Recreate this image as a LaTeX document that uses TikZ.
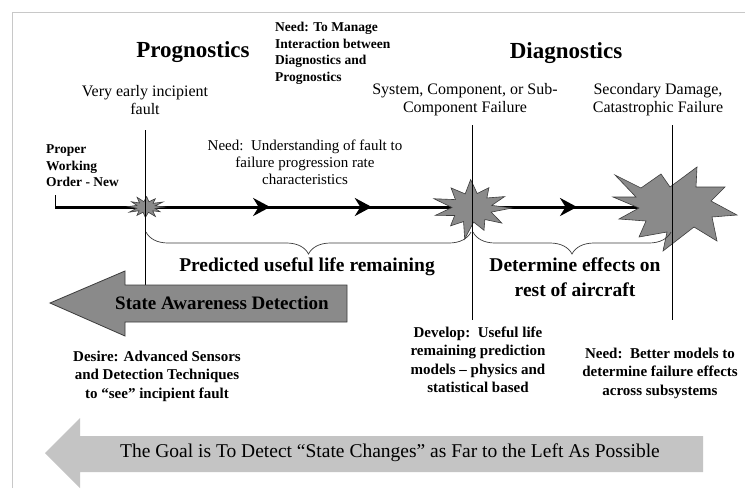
\documentclass[tikz,border=0pt]{standalone}
\usepackage{fontspec}
\setmainfont{Liberation Serif}
\usetikzlibrary{arrows.meta,decorations.pathreplacing,decorations.markings,calc}
\definecolor{framegray}{HTML}{C8C8C8}
\definecolor{stargray}{HTML}{8A8A8A}
\definecolor{edgegray}{HTML}{3C3C3C}
\definecolor{goalgray}{HTML}{C4C4C4}
\begin{document}
\begin{tikzpicture}[x=1pt,y=-1pt,
  txt/.style={inner sep=0pt, align=center},
  title/.style={inner sep=0pt, font=\bfseries\fontsize{23}{26}\selectfont},
  lbl/.style={txt, font=\fontsize{16}{18}\selectfont},
  blbl/.style={txt, font=\bfseries\fontsize{15}{18.5}\selectfont},
  big/.style={txt, font=\bfseries\fontsize{19.5}{25}\selectfont},
  mainline/.style={line width=3pt, black, postaction={decorate},
    decoration={markings,
      mark=at position 0.347 with {\arrow{Stealth[length=17pt,width=18pt]}},
      mark=at position 0.511 with {\arrow{Stealth[length=17pt,width=18pt]}},
      mark=at position 0.842 with {\arrow{Stealth[length=17pt,width=18pt]}}}},
  vline/.style={line width=0.7pt, black},
  burst/.style={fill=stargray, draw=edgegray, line width=0.6pt, line join=miter},
  bracestyle/.style={draw=edgegray, line width=0.7pt, decorate,
    decoration={brace, mirror, amplitude=22pt}},
  stateArrow/.style={fill=stargray, draw=edgegray, line width=0.8pt},
  goalArrow/.style={fill=goalgray}
]
\useasboundingbox (0,0) rectangle (745,488);
\fill[white] (0,0) rectangle (745,488);
% frame
\draw[framegray, line width=1pt] (12,488) -- (12,12) -- (745,12);

% coordinates
\coordinate (pwo) at (55,207);
\coordinate (pwotop) at (55,195);
\coordinate (s1) at (146,207);
\coordinate (s2) at (472,208);
\coordinate (s3) at (675,207);
\coordinate (v1t) at (145,130); \coordinate (v1b) at (145,285);
\coordinate (v2t) at (472,125); \coordinate (v2b) at (472,320);
\coordinate (v3t) at (672,125); \coordinate (v3b) at (672,320);
\coordinate (b1l) at (146,232); \coordinate (b1r) at (471,232);
\coordinate (b2l) at (473,232); \coordinate (b2r) at (671,232);

% main timeline
\draw[line width=0.6pt] (pwotop) -- (pwo);
\draw[mainline] (pwo) -- (s3);

% bursts
\path[burst] ($(s1)+(0:19 and 11)$)
  \foreach \a/\r in {15/.5,30/.85,45/.5,60/1,75/.5,92/.95,108/.5,122/.9,137/.5,152/1,167/.5,182/.95,197/.5,212/.9,227/.5,242/1,257/.5,272/.95,288/.5,303/.9,318/.5,333/1,347/.5}
  { -- ($(s1)+(\a:{\r*19} and {\r*11})$) } -- cycle;
\path[burst] ($(s2)+(0:40 and 30)$)
  \foreach \a/\r in {16/.5,34/.9,50/.5,68/.8,85/.47,100/1.05,115/.5,132/.8,150/.5,165/.95,182/.5,198/1,214/.5,232/.85,250/.5,268/.95,285/.5,302/.8,318/.5,335/.9,350/.5}
  { -- ($(s2)+(\a:{\r*40} and {\r*30})$) } -- cycle;
\path[burst] ($(s3)+(-60,-32)$)
  \foreach \dx/\dy in {-34/-19,-14/-33,-5/-20,22/-40,21/-20,50/-20,36/-6,62/8,37/10,42/34,19/20,-12/44,-8/25,-36/30,-29/14,-56/12,-36/1,-62/-10,-39/-10}
  { -- ($(s3)+(\dx,\dy)$) } -- cycle;

% vertical lines
\draw[vline] (v1t) -- (v1b);
\draw[vline] (v2t) -- (v2b);
\draw[vline] (v3t) -- (v3b);

% braces
\draw[bracestyle] (b1l) -- (b1r);
\draw[bracestyle] (b2l) -- (b2r);

% arrows
\draw[stateArrow] (50,303) -- (125,271) -- (125,285) -- (347,285) -- (347,322) -- (125,322) -- (125,336) -- cycle;
\fill[goalArrow] (45,453) -- (80,418) -- (80,436) -- (703,436) -- (703,472) -- (80,472) -- (80,488) -- cycle;

% texts
\node[title] (prog) at (193,52) {Prognostics};
\node[title] (diag) at (566,53) {Diagnostics};
\node[txt, anchor=north west, align=left, font=\bfseries\fontsize{13.5}{16.5}\selectfont] (manage) at (275,22)
  {Need: To Manage\\Interaction between\\Diagnostics and\\Prognostics};
\node[lbl] (early) at (145,100) {Very early incipient\\fault};
\node[lbl] (sys) at (465,100) {System, Component, or Sub-\\Component Failure};
\node[lbl] (sec) at (658,100) {Secondary Damage,\\Catastrophic Failure};
\node[txt, font=\fontsize{15}{17}\selectfont] (under) at (305,162)
  {Need:\ \ Understanding of fault to\\failure progression rate\\characteristics};
\node[txt, anchor=west, align=left, font=\bfseries\fontsize{13.5}{16.5}\selectfont] (proper) at (46,166)
  {Proper\\Working\\Order - New};
\node[big] (pred) at (307,267) {Predicted useful life remaining};
\node[big] (effects) at (575,277) {Determine effects on\\rest of aircraft};
\node[big, font=\bfseries\fontsize{19}{22}\selectfont] (state) at (222,303) {State Awareness Detection};
\node[blbl] (desire) at (157,376) {Desire: Advanced Sensors\\and Detection Techniques\\to “see” incipient fault};
\node[blbl] (develop) at (478,360) {Develop:\ \ Useful life\\remaining prediction\\models – physics and\\statistical based};
\node[blbl] (better) at (660,373) {Need:\ \ Better models to\\determine failure effects\\across subsystems};
\node[txt, font=\fontsize{19.5}{22}\selectfont] (goal) at (390,453)
  {The Goal is To Detect “State Changes” as Far to the Left As Possible};
\end{tikzpicture}
\end{document}
